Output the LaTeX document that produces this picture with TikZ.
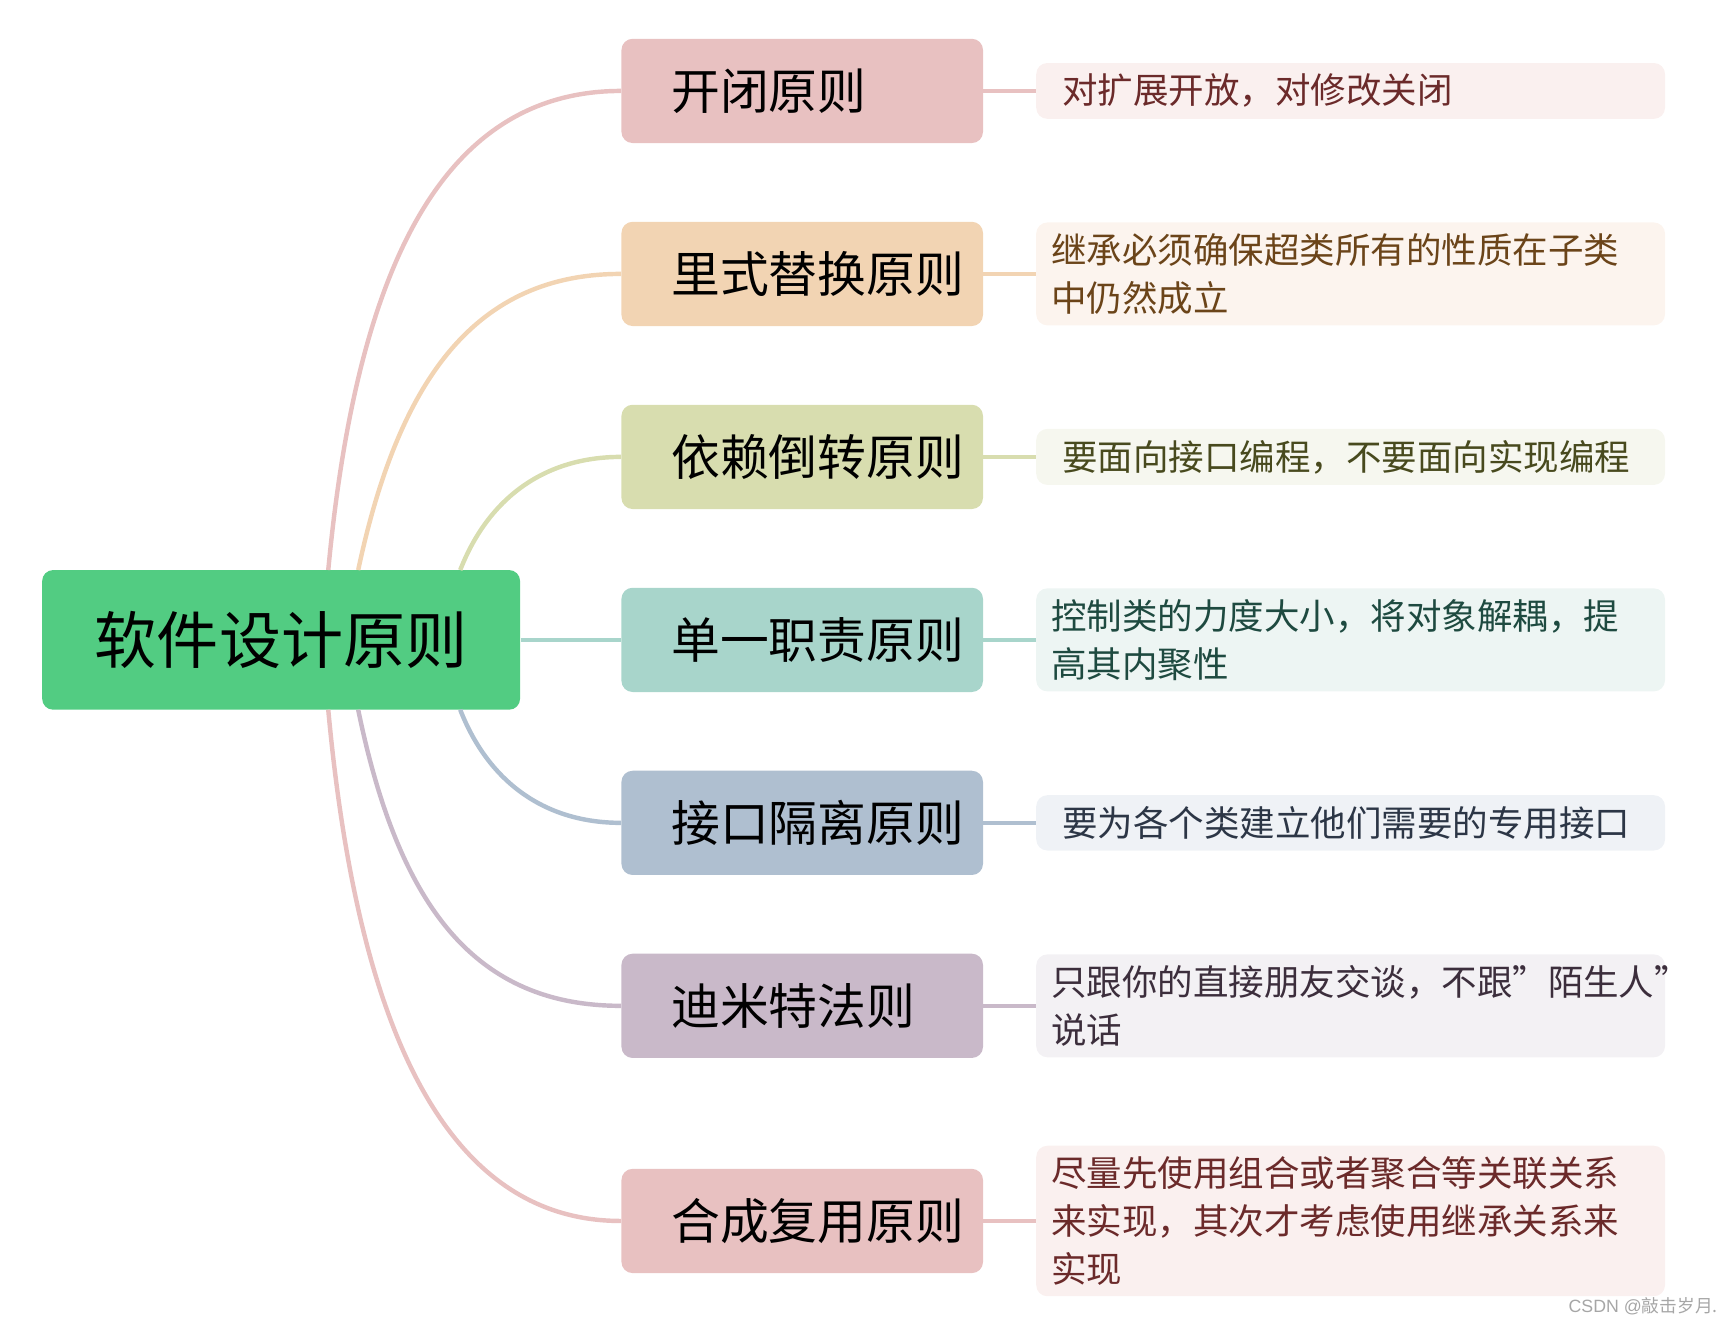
\documentclass[tikz,border=0pt]{standalone}
\usepackage{fontspec}
\setmainfont{Noto Sans CJK SC}
\setsansfont{Liberation Sans}
\definecolor{rootc}{HTML}{52CC82}
\definecolor{c1}{HTML}{E8C1C1}\definecolor{l1}{HTML}{FAF0EF}\definecolor{t1}{HTML}{6B2A2A}
\definecolor{c2}{HTML}{F2D4B3}\definecolor{l2}{HTML}{FCF4EE}\definecolor{t2}{HTML}{6B4419}
\definecolor{c3}{HTML}{D8DDAF}\definecolor{l3}{HTML}{F6F7EF}\definecolor{t3}{HTML}{484A1E}
\definecolor{c4}{HTML}{A8D5CB}\definecolor{l4}{HTML}{EDF5F3}\definecolor{t4}{HTML}{1E4A40}
\definecolor{c5}{HTML}{AFBFD0}\definecolor{l5}{HTML}{EFF2F6}\definecolor{t5}{HTML}{2C3646}
\definecolor{c6}{HTML}{C9B9C9}\definecolor{l6}{HTML}{F3F1F4}\definecolor{t6}{HTML}{3C2E3C}
\definecolor{c7}{HTML}{E8C1C1}\definecolor{l7}{HTML}{FAF0EF}\definecolor{t7}{HTML}{6B2A2A}
\tikzset{
 branch/.style={fill=#1, rounded corners=5pt, minimum width=163pt, minimum height=47pt, text width=150pt, align=left, font=\fontsize{22pt}{26pt}\selectfont, inner sep=0pt, anchor=west},
 leaf/.style={rounded corners=5pt, minimum width=283.5pt, text width=270pt, align=left, font=\fontsize{16pt}{21.5pt}\selectfont, inner ysep=5pt, inner xsep=0pt, anchor=west},
 conn/.style={line width=2pt, draw=#1},
}
\begin{document}
\begin{tikzpicture}[x=0.5pt,y=-0.5pt]
\useasboundingbox (0,0) rectangle (1560,1188);
\node[fill=rootc, rounded corners=5pt, minimum width=215.5pt, minimum height=63pt, font=\fontsize{28pt}{32pt}\selectfont, inner sep=0pt] (root) at (253.5,577) {软件设计原则};
\foreach \i/\y/\t in {1/82/开闭原则,2/247/里式替换原则,3/412/依赖倒转原则,4/577/单一职责原则,5/742/接口隔离原则,6/907/迪米特法则,7/1101/合成复用原则}{
 \node[branch=c\i] (b\i) at (560,\y) {\hspace*{16pt}\t};
}
\node[leaf, fill=l1, text=t1] (f1) at (934,82) {\hspace*{5pt}对扩展开放，对修改关闭};
\node[leaf, fill=l2, text=t2] (f2) at (934,247) {继承必须确保超类所有的性质在子类\\中仍然成立};
\node[leaf, fill=l3, text=t3] (f3) at (934,412) {\hspace*{5pt}要面向接口编程，不要面向实现编程};
\node[leaf, fill=l4, text=t4] (f4) at (934,577) {控制类的力度大小，将对象解耦，提\\高其内聚性};
\node[leaf, fill=l5, text=t5] (f5) at (934,742) {\hspace*{5pt}要为各个类建立他们需要的专用接口};
\node[leaf, fill=l6, text=t6] (f6) at (934,907) {只跟你的直接朋友交谈，不跟"陌生人"\\说话};
\node[leaf, fill=l7, text=t7] (f7) at (934,1101) {尽量先使用组合或者聚合等关联关系\\来实现，其次才考虑使用继承关系来\\实现};
\foreach \i in {1,...,7}{\draw[conn=c\i] (b\i.east) -- (f\i.west);}
\coordinate (s1) at (296,514); \coordinate (s2) at (323,514); \coordinate (s3) at (415,514);
\coordinate (s5) at (415,640); \coordinate (s6) at (323,640); \coordinate (s7) at (296,640);
\draw[conn=c1] (s1) .. controls (320,260) and (390,82) .. (b1.west);
\draw[conn=c2] (s2) .. controls (360,340) and (430,247) .. (b2.west);
\draw[conn=c3] (s3) .. controls (440,450) and (490,412) .. (b3.west);
\draw[conn=c4] (root.east) -- (b4.west);
\draw[conn=c5] (s5) .. controls (440,704) and (490,742) .. (b5.west);
\draw[conn=c6] (s6) .. controls (360,820) and (430,907) .. (b6.west);
\draw[conn=c7] (s7) .. controls (320,900) and (390,1101) .. (b7.west);
\node[text=gray!70, font=\sffamily\fontsize{8pt}{9pt}\selectfont, anchor=east] (wm) at (1556,1178) {CSDN @\fontspec{Noto Sans CJK SC}敲击岁月.};
\end{tikzpicture}
\end{document}
